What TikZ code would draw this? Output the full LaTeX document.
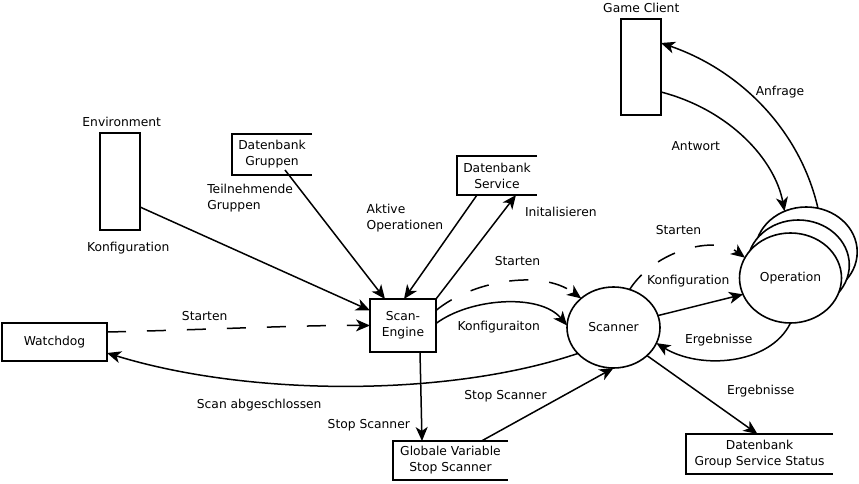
\documentclass[tikz,border=0pt]{standalone}
\usepackage{fontspec}
\setmainfont{DejaVu Sans}
\usetikzlibrary{arrows.meta,shapes.geometric}
\begin{document}
\begin{tikzpicture}[x=1pt,y=-1pt,
  every node/.style={font=\fontsize{12.3}{16}\selectfont, inner sep=0pt, outer sep=0pt},
  box/.style={draw, line width=1.8pt, minimum width=#1},
  openbox/.style={draw=none, align=center},
  proc/.style={ellipse, draw, line width=1.6pt, fill=white},
  flow/.style={line width=1.5pt, -{Stealth[length=14pt,width=12pt,inset=4pt]}},
  dflow/.style={flow, dash pattern=on 19pt off 21pt},
  lbl/.style={align=left}
]
\useasboundingbox (0,0) rectangle (859,484);

% external entities
\node[box=40pt, minimum height=97pt] (env) at (120,181.5) {};
\node (envl) at (121.7,121.7) {Environment};
\node[box=40pt, minimum height=96pt] (gc) at (641,67) {};
\node (gcl) at (641.3,8.3) {Game Client};
\node[box=105pt, minimum height=38pt] (wd) at (54.5,342) {Watchdog};
\node[box=66pt, minimum height=53pt, align=center] (se) at (403,325.5) {Scan-\\Engine};

% data stores (open right side)
\node[openbox, minimum width=80pt, minimum height=41pt] (dbg) at (272,154.5) {Datenbank\\Gruppen};
\node[openbox, minimum width=80pt, minimum height=39pt] (dbs) at (497,175.5) {Datenbank\\Service};
\node[openbox, minimum width=147pt, minimum height=40pt] (gss) at (759.5,454) {Datenbank\\Group Service Status};
\node[openbox, minimum width=115pt, minimum height=39pt] (gv) at (450.5,460.5) {Globale Variable\\Stop Scanner};
\foreach \n in {dbg,dbs,gss,gv}
  \draw[line width=1.8pt] (\n.north east) -- (\n.north west) -- (\n.south west) -- (\n.south east);

% processes
\node[proc, minimum width=93pt, minimum height=81pt] (scanner) at (613.5,327.5) {Scanner};
\node[proc, minimum width=102pt, minimum height=90pt] (opb) at (806.2,252) {};
\node[proc, minimum width=102pt, minimum height=90pt] (opm) at (798.3,265) {};
\node[proc, minimum width=102pt, minimum height=90pt] (op) at (790.5,278) {Operation};

% connectors
\draw[flow] ([yshift=-25.5pt]env.east) -- ([yshift=15pt]se.west);
\draw[flow] ([xshift=13pt,yshift=5pt]dbg.south) -- ([xshift=-18pt]se.north);
\draw[flow] ([xshift=-20pt]dbs.south) -- ([xshift=1pt]se.north);
\draw[flow] (se.north east) -- ([xshift=19pt]dbs.south);
\draw[dflow] ([yshift=15pt]se.east) .. controls (470,282) and (540,268) .. (scanner.138);
\draw[flow] ([yshift=2pt]se.east) .. controls (470,298) and (540,293) .. ([yshift=2pt]scanner.west);
\draw[dflow] ([yshift=10pt]wd.east) .. controls (200,330) and (300,325) .. (se.west);
\draw[flow] (scanner.216) .. controls (450,397) and (250,397) .. ([yshift=-11pt]wd.east);
\draw[flow] ([xshift=17pt]se.south) -- ([xshift=-28.5pt]gv.north);
\draw[flow] ([xshift=31pt]gv.north) -- (scanner.south);
\draw[dflow] (scanner.67) .. controls (655,250) and (715,235) .. (op.156);
\draw[flow] (scanner.15) -- (op.199);
\draw[flow] (op.south) .. controls (770,365) and (700,370) .. (scanner.340);
\draw[flow] (scanner.320) -- ([xshift=-2pt]gss.north);
\draw[flow] ([yshift=-25pt]gc.east) .. controls (730,110) and (775,160) .. (opb.118);
\draw[flow] (opb.75) .. controls (800,130) and (740,70) .. ([yshift=24pt]gc.east);

% labels
\node (l1) at (128.3,248.3) {Konfiguration};
\node[lbl, anchor=west] (l2) at (207.3,198) {Teilnehmende\\Gruppen};
\node[lbl, anchor=west] (l3) at (366.7,218) {Aktive\\Operationen};
\node (l4) at (560.8,211.7) {Initalisieren};
\node (l5) at (517.5,260.7) {Starten};
\node (l6) at (498.7,327.3) {Konfiguraiton};
\node (l7) at (204.7,315.7) {Starten};
\node (l8) at (259.2,405) {Scan abgeschlossen};
\node (l9) at (368.8,425.7) {Stop Scanner};
\node (l10) at (505.5,396.7) {Stop Scanner};
\node (l11) at (678.5,230) {Starten};
\node (l12) at (688.3,281) {Konfiguration};
\node (l13) at (718.7,340) {Ergebnisse};
\node (l14) at (760.8,391) {Ergebnisse};
\node (l15) at (695.8,145.7) {Antwort};
\node (l16) at (780,91.7) {Anfrage};
\end{tikzpicture}
\end{document}
